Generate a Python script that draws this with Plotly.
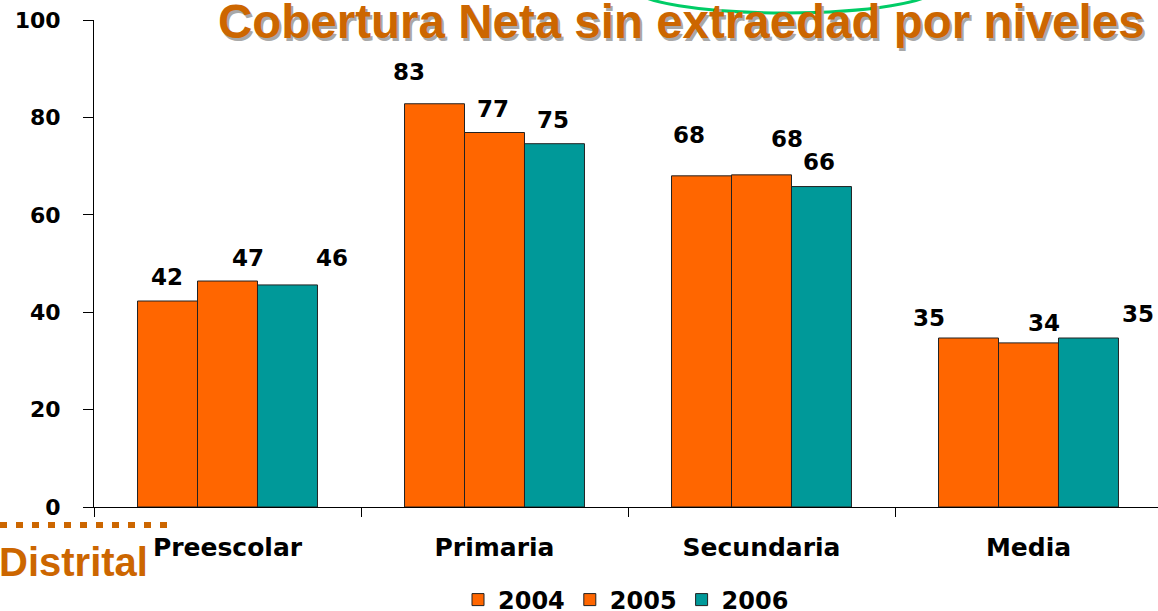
import plotly.graph_objects as go

categories = ["Preescolar", "Primaria", "Secundaria", "Media"]
years = ["2004", "2005", "2006"]
v2004 = [42.3, 82.8, 68.0, 34.7]
v2005 = [46.4, 76.9, 68.2, 33.7]
v2006 = [45.6, 74.6, 65.8, 34.7]
labels2004 = ["42", "83", "68", "35"]
labels2005 = ["47", "77", "68", "34"]
labels2006 = ["46", "75", "66", "35"]
y_ticks = [0, 20, 40, 60, 80, 100]

colors = ["#FF6600", "#FF6600", "#009999"]
series = [v2004, v2005, v2006]
series_labels = [labels2004, labels2005, labels2006]

# label offsets in pixels (dx, dy) relative to bar top centre: style only
label_offsets = [
    [(-1, -24), (20, -23), (45, -27)],
    [(-26, -32), (-2, -24), (-1, -24)],
    [(-13, -41), (25, -36), (-2, -25)],
    [(-40, -20), (15, -20), (50, -24)],
]

AX = "DejaVu Sans"
W, H = 1158, 611
L, R, T, B = 94, 0, 20, 104
pw, ph = W - L - R, H - T - B
cat_px = 267.0
bargap = 0.326
bar_w = (1 - bargap) / 3

fig = go.Figure()
for i, yr in enumerate(years):
    fig.add_trace(go.Bar(
        x=categories, y=series[i], name=yr,
        marker=dict(color=colors[i], line=dict(color="#222222", width=1)),
    ))

annotations = []
for c in range(len(categories)):
    for i in range(3):
        dx, dy = label_offsets[c][i]
        annotations.append(dict(
            x=c + (i - 1) * bar_w, y=series[i][c], xref="x", yref="y",
            text=series_labels[i][c], showarrow=False,
            xshift=dx, yshift=-dy, yanchor="middle", xanchor="center",
            font=dict(family=AX, size=23, color="black", weight="bold"),
        ))

def px_x(p):
    return (p - L) / pw

def px_y(p):
    return 1 + (T - p) / ph

title = "Cobertura Neta sin extraedad por niveles"
for dxx, col in [(2, "#A8A8A8"), (0, "#CC6600")]:
    annotations.append(dict(
        x=px_x(681 + dxx), y=px_y(22 + dxx), xref="paper", yref="paper",
        text="<b>" + title + "</b>", showarrow=False,
        xanchor="center", yanchor="middle",
        font=dict(family="Liberation Sans", size=47.5, color=col),
    ))

annotations.append(dict(
    x=px_x(150), y=px_y(562), xref="paper", yref="paper",
    text="<b>Distrital</b>", showarrow=False, xanchor="right", yanchor="middle",
    font=dict(family="Liberation Sans", size=40, color="#CC6600"),
))

shapes = [
    dict(type="circle", xref="paper", yref="paper",
         x0=px_x(635), x1=px_x(935), y0=px_y(13), y1=px_y(-36),
         line=dict(color="#00CC66", width=3)),
    dict(type="line", xref="paper", yref="paper",
         x0=px_x(0), x1=px_x(168), y0=px_y(525), y1=px_y(525),
         line=dict(color="#CC6600", width=6, dash="7px,9px")),
]

fig.update_layout(
    width=W, height=H,
    margin=dict(l=L, r=R, t=T, b=B, pad=0, autoexpand=False),
    paper_bgcolor="white", plot_bgcolor="white",
    barmode="group", bargap=bargap, bargroupgap=0,
    showlegend=True,
    legend=dict(orientation="h", x=0.5, xanchor="center",
                yref="container", y=(H - 600) / H, yanchor="middle",
                font=dict(family=AX, size=24, color="black", weight="bold"),
                itemwidth=30, traceorder="normal"),
    annotations=annotations, shapes=shapes,
    xaxis=dict(
        type="category", categoryorder="array", categoryarray=categories,
        range=[-0.5, -0.5 + pw / cat_px],
        showline=True, linecolor="black", linewidth=1,
        ticks="outside", ticklen=9, tickcolor="black", tickson="boundaries",
        showgrid=False, zeroline=False, automargin=False,
        tickfont=dict(family=AX, size=25, color="black", weight="bold"),
        ticklabelstandoff=18,
    ),
    yaxis=dict(
        range=[0, 100], tickvals=y_ticks,
        showline=True, linecolor="black", linewidth=1,
        ticks="outside", ticklen=10, tickcolor="black",
        showgrid=False, zeroline=False, automargin=False,
        tickfont=dict(family=AX, size=22, color="black", weight="bold"),
        ticklabelstandoff=18,
    ),
)

fig.write_html(
    "out.html",
    config={"displayModeBar": False},
    post_script="document.body.style.margin='0';document.body.style.padding='0';"
                "document.body.style.overflow='hidden';",
)
